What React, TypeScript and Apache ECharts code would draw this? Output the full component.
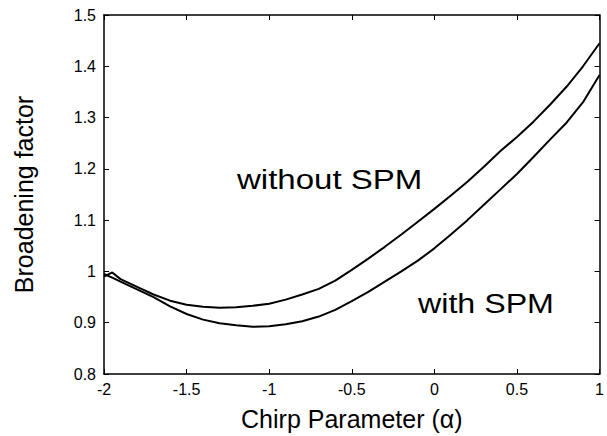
import React, { useEffect, useRef } from "react";
import * as echarts from "echarts";

const alphaValues = [
  -2, -1.95, -1.9, -1.8, -1.7, -1.6, -1.5, -1.4, -1.3, -1.2, -1.1, -1.0,
  -0.9, -0.8, -0.7, -0.6, -0.5, -0.4, -0.3, -0.2, -0.1, 0, 0.1, 0.2, 0.3,
  0.4, 0.5, 0.6, 0.7, 0.8, 0.9, 1.0,
];
const withoutSpm = [
  0.99, 0.998, 0.985, 0.97, 0.955, 0.943, 0.935, 0.931, 0.929, 0.93, 0.933,
  0.937, 0.945, 0.955, 0.966, 0.982, 1.003, 1.025, 1.048, 1.072, 1.097, 1.122,
  1.148, 1.175, 1.204, 1.235, 1.262, 1.292, 1.325, 1.36, 1.4, 1.445,
];
const withSpm = [
  0.995, 0.988, 0.98, 0.965, 0.95, 0.932, 0.917, 0.906, 0.899, 0.895, 0.892,
  0.893, 0.897, 0.903, 0.912, 0.925, 0.942, 0.96, 0.98, 1.0, 1.021, 1.045,
  1.072, 1.1, 1.13, 1.16, 1.19, 1.223, 1.257, 1.29, 1.33, 1.383,
];
const xTickLabels = ["-2", "-1.5", "-1", "-0.5", "0", "0.5", "1"];
const yTickLabels = ["0.8", "0.9", "1", "1.1", "1.2", "1.3", "1.4", "1.5"];
const seriesNames = ["without SPM", "with SPM"];
const xTitle = "Chirp Parameter (\u03b1)";
const yTitle = "Broadening factor";

const FONT = "'Liberation Sans', Arial, Helvetica, sans-serif";

export default function App() {
  const ref = useRef<HTMLDivElement>(null);
  useEffect(() => {
    if (!ref.current) return;
    const chart = echarts.init(ref.current, undefined, { renderer: "svg" });
    const xLab = (v: number) => xTickLabels[Math.round((v + 2) / 0.5)] ?? "";
    const yLab = (v: number) => yTickLabels[Math.round((v - 0.8) / 0.1)] ?? "";
    const axisLine = { show: true, onZero: false, lineStyle: { color: "#000", width: 1.5 } };
    const tickIn = { show: true, inside: true, length: 5, lineStyle: { color: "#000", width: 1 } };
    const labStyle = { color: "#000", fontSize: 16, fontFamily: FONT };
    chart.setOption({
      animation: false,
      backgroundColor: "#fff",
      grid: { left: 104, right: 4, top: 15, bottom: 61, containLabel: false },
      xAxis: [
        {
          type: "value",
          min: -2,
          max: 1,
          interval: 0.5,
          axisLine,
          axisTick: tickIn,
          splitLine: { show: false },
          axisLabel: { ...labStyle, formatter: xLab, margin: 7 },
          name: xTitle,
          nameLocation: "middle",
          nameGap: 32,
          nameTextStyle: { color: "#000", fontSize: 25, fontFamily: FONT },
        },
        {
          type: "value",
          position: "top",
          min: -2,
          max: 1,
          interval: 0.5,
          axisLine,
          axisTick: tickIn,
          axisLabel: { show: false },
          splitLine: { show: false },
        },
      ],
      yAxis: [
        {
          type: "value",
          min: 0.8,
          max: 1.5,
          interval: 0.1,
          axisLine,
          axisTick: tickIn,
          splitLine: { show: false },
          axisLabel: { ...labStyle, formatter: yLab, margin: 8 },
          name: yTitle,
          nameLocation: "middle",
          nameGap: 68,
          nameTextStyle: { color: "#000", fontSize: 25, fontFamily: FONT },
        },
        {
          type: "value",
          position: "right",
          min: 0.8,
          max: 1.5,
          interval: 0.1,
          axisLine,
          axisTick: tickIn,
          axisLabel: { show: false },
          splitLine: { show: false },
        },
      ],
      series: [
        {
          name: seriesNames[0],
          type: "line",
          data: alphaValues.map((a, i) => [a, withoutSpm[i]]),
          showSymbol: false,
          lineStyle: { color: "#000", width: 2 },
        },
        {
          name: seriesNames[1],
          type: "line",
          data: alphaValues.map((a, i) => [a, withSpm[i]]),
          showSymbol: false,
          lineStyle: { color: "#000", width: 2 },
        },
      ],
      graphic: [
        {
          type: "text",
          x: 237,
          y: 179,
          scaleX: 1.18,
          style: {
            text: seriesNames[0],
            fontSize: 28,
            fontFamily: FONT,
            fill: "#000",
            textAlign: "left",
            textVerticalAlign: "middle",
          },
        },
        {
          type: "text",
          x: 418,
          y: 303,
          scaleX: 1.15,
          style: {
            text: seriesNames[1],
            fontSize: 28,
            fontFamily: FONT,
            fill: "#000",
            textAlign: "left",
            textVerticalAlign: "middle",
          },
        },
      ],
    });
    return () => chart.dispose();
  }, []);
  return (
    <div
      ref={ref}
      style={{ position: "fixed", left: 0, top: 0, width: 607, height: 436, background: "#fff" }}
    />
  );
}
